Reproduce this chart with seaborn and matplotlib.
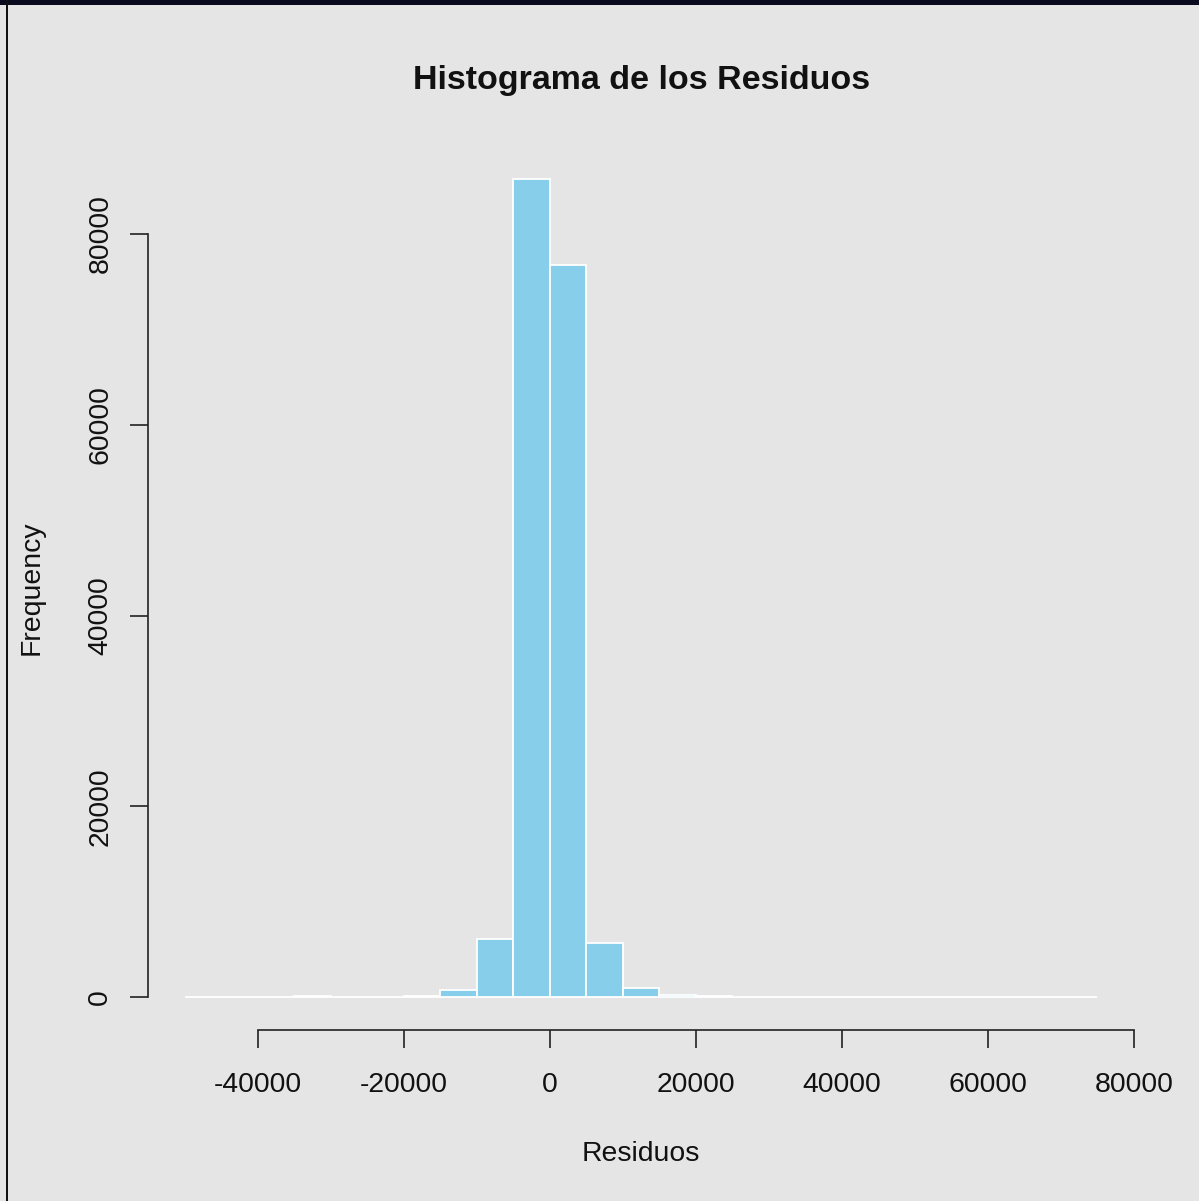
import matplotlib
matplotlib.use("Agg")
import matplotlib.pyplot as plt
import matplotlib.patches as mpatches
import seaborn as sns
import numpy as np

# Data (bin edges and frequencies)
bin_edges = [-50000, -45000, -40000, -35000, -30000, -25000, -20000, -15000,
             -10000, -5000, 0, 5000, 10000, 15000, 20000, 25000, 30000,
             35000, 40000, 45000, 50000, 55000, 60000, 65000, 70000, 75000]
frequencies = [20, 20, 20, 100, 40, 40, 150, 740, 6080, 85770, 76750, 5660,
               950, 250, 100, 40, 30, 30, 20, 20, 20, 20, 20, 20, 20]
x_ticks = [-40000, -20000, 0, 20000, 40000, 60000, 80000]
y_ticks = [0, 20000, 40000, 60000, 80000]
title = "Histograma de los Residuos"
x_label = "Residuos"
y_label = "Frequency"

mids = [(a + b) / 2 for a, b in zip(bin_edges[:-1], bin_edges[1:])]

sns.set_style("white")
plt.rcParams['font.family'] = ['Liberation Sans', 'DejaVu Sans']

W, H = 1199, 1201
fig = plt.figure(figsize=(W / 100, H / 100), dpi=100)
bg = "#E5E5E5"
fig.patch.set_facecolor(bg)

# plot region in pixels: x 148..1134, y 146..1030
left, right, top, bottom = 148, 1134, 146, 1030
ax = fig.add_axes([left / W, 1 - bottom / H, (right - left) / W, (bottom - top) / H])
ax.set_facecolor(bg)

sns.histplot(x=mids, weights=frequencies, bins=bin_edges, color="#87CEEB",
             edgecolor="white", linewidth=1.3, alpha=1, ax=ax)

ax.set_xlim(-55000, 80000)
ax.set_ylim(-85770 * 0.04, 85770 * 1.04)

for s in ["top", "right"]:
    ax.spines[s].set_visible(False)
ax.spines["left"].set_bounds(0, 80000)
ax.spines["bottom"].set_bounds(-40000, 80000)
for s in ["left", "bottom"]:
    ax.spines[s].set_color("#222222")
    ax.spines[s].set_linewidth(1.2)

ax.set_xticks(x_ticks)
ax.set_xticklabels([str(v) for v in x_ticks])
ax.set_yticks(y_ticks)
ax.set_yticklabels([str(v) for v in y_ticks], rotation=90, va="center")
ax.tick_params(axis="both", direction="out", length=13, width=1.2,
               color="#222222", labelsize=20.4, labelcolor="#111111",
               bottom=True, left=True)
ax.tick_params(axis="x", pad=17)
ax.tick_params(axis="y", pad=12)

ax.set_xlabel(x_label, fontsize=20.4, color="#111111", labelpad=31)
ax.set_ylabel(y_label, fontsize=20.4, color="#111111", labelpad=31)
fig.text(642 / W, 1 - 80 / H, title, ha="center", va="center",
         fontsize=24.5, fontweight="bold", color="#111111")

# screenshot frame
fig.patches.append(mpatches.Rectangle((0, 1 - 5 / H), 1, 5 / H, transform=fig.transFigure,
                                      facecolor="#0a0a1e", edgecolor="none"))
fig.patches.append(mpatches.Rectangle((6 / W, 0), 1.5 / W, 1, transform=fig.transFigure,
                                      facecolor="#111111", edgecolor="none"))

fig.savefig("out.png", dpi=100, facecolor=bg)
